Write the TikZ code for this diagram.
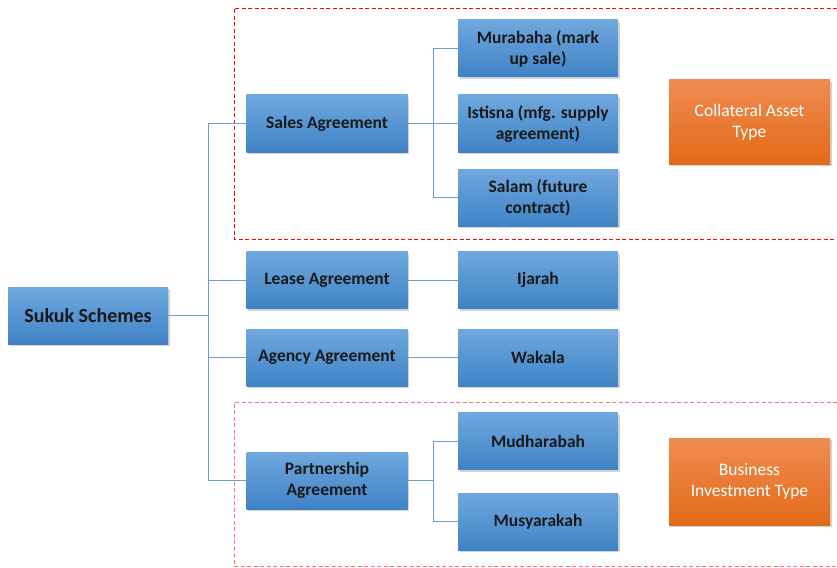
\documentclass[tikz,border=0pt]{standalone}
\usepackage{fontspec}
\setmainfont{Carlito}
\usetikzlibrary{positioning,shadows}

\definecolor{boxtop}{HTML}{6FA8DE}
\definecolor{boxbot}{HTML}{3F83C6}
\definecolor{tagtop}{HTML}{F08C52}
\definecolor{tagbot}{HTML}{E26A17}
\definecolor{linkblue}{HTML}{6A9FD6}

\begin{document}
\begin{tikzpicture}[
  x=1pt, y=-1pt,
  item/.style={rectangle, top color=boxtop, bottom color=boxbot, draw=none,
    align=center, minimum width=161pt, minimum height=57pt, inner sep=2pt,
    font=\fontsize{17.5}{21}\selectfont\bfseries, text=black!90,
    drop shadow={shadow xshift=1.5pt, shadow yshift=-2pt, opacity=0.35}},
  tag/.style={rectangle, top color=tagtop, bottom color=tagbot, draw=none,
    align=center, minimum width=161pt, minimum height=84pt, text=white,
    font=\fontsize{17.5}{21}\selectfont,
    drop shadow={shadow xshift=1.5pt, shadow yshift=-2pt, opacity=0.35}},
  link/.style={draw=linkblue, line width=0.8pt},
  frame/.style={dashed, dash pattern=on 4pt off 2.5pt, line width=0.9pt}
]
\useasboundingbox (0,0) rectangle (837,567);

% dashed groups
\draw[frame, red] (837,8) -- (234,8) -- (234,239) -- (837,239);
\draw[frame, red!55] (837,402) -- (234,402) -- (234,566) -- (837,566);

% root
\node[item, minimum width=160pt, font=\fontsize{20}{24}\selectfont\bfseries] (root) at (88,315.5) {Sukuk Schemes};

% agreements
\node[item] (sales) at (327,123.5) {Sales Agreement};
\node[item] (lease) at (327,280) {Lease Agreement};
\node[item] (agency) at (327,357.5) {Agency Agreement};
\node[item] (partner) at (327,480.5) {Partnership\\Agreement};

% schemes
\node[item, minimum width=160pt] (mura) at (538,48.5) {Murabaha (mark\\up sale)};
\node[item, minimum width=160pt] (istis) at (538,123.5) {Istisna (mfg. supply\\agreement)};
\node[item, minimum width=160pt] (salam) at (538,197.5) {Salam (future\\contract)};
\node[item, minimum width=160pt] (ijarah) at (538,280) {Ijarah};
\node[item, minimum width=160pt] (wakala) at (538,357.5) {Wakala};
\node[item, minimum width=160pt] (mudh) at (538,441) {Mudharabah};
\node[item, minimum width=160pt] (musy) at (538,521.5) {Musyarakah};

% types
\node[tag] (collat) at (749.5,122) {Collateral Asset\\Type};
\node[tag, minimum height=87pt] (invest) at (749.5,481.5) {Business\\Investment Type};

% connectors
\coordinate (trunk) at (208,315.5);
\coordinate (salesfork) at (433,123.5);
\coordinate (partfork) at (433,480.5);

\draw[link] (root) -- (trunk);
\draw[link] (trunk) |- (sales);
\draw[link] (trunk) |- (lease);
\draw[link] (trunk) |- (agency);
\draw[link] (trunk) |- (partner);

\draw[link] (sales) -- (salesfork);
\draw[link] (salesfork) |- (mura);
\draw[link] (salesfork) |- (istis);
\draw[link] (salesfork) |- (salam);

\draw[link] (lease) -- (ijarah);
\draw[link] (agency) -- (wakala);

\draw[link] (partner) -- (partfork);
\draw[link] (partfork) |- (mudh);
\draw[link] (partfork) |- (musy);
\end{tikzpicture}
\end{document}
